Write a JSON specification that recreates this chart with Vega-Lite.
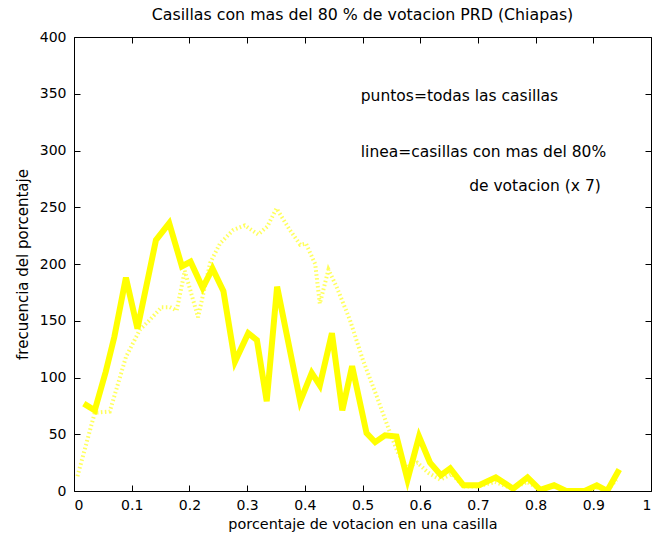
{
  "$schema": "https://vega.github.io/schema/vega-lite/v6.json",
  "autosize": "none",
  "width": 577,
  "height": 454,
  "padding": {"left": 74, "top": 37, "right": 2, "bottom": 51},
  "background": "white",
  "title": {"text": "Casillas con mas del 80 % de votacion PRD (Chiapas)", "font": "DejaVu Sans", "fontSize": 15.8, "fontWeight": "normal", "color": "black", "offset": 6, "anchor": "middle"},
  "config": {
    "view": {"stroke": "black", "strokeWidth": 1},
    "axis": {"labelFont": "DejaVu Sans", "labelFontSize": 14, "labelColor": "black", "titleFont": "DejaVu Sans", "titleFontSize": 15, "titleFontWeight": "normal", "titleColor": "black", "domain": false, "grid": false, "tickColor": "black", "tickSize": -6, "tickWidth": 1}
  },
  "datasets": {
    "solid": [
      {"x": 0.017, "y": 77}, {"x": 0.036, "y": 71}, {"x": 0.055, "y": 105}, {"x": 0.07, "y": 136}, {"x": 0.09, "y": 188},
      {"x": 0.11, "y": 143}, {"x": 0.142, "y": 221}, {"x": 0.165, "y": 236}, {"x": 0.187, "y": 198}, {"x": 0.202, "y": 202},
      {"x": 0.223, "y": 179}, {"x": 0.24, "y": 196}, {"x": 0.259, "y": 176}, {"x": 0.279, "y": 114}, {"x": 0.302, "y": 139},
      {"x": 0.317, "y": 133}, {"x": 0.334, "y": 79}, {"x": 0.352, "y": 180}, {"x": 0.392, "y": 79}, {"x": 0.412, "y": 104},
      {"x": 0.426, "y": 93}, {"x": 0.447, "y": 139}, {"x": 0.465, "y": 71}, {"x": 0.482, "y": 110}, {"x": 0.507, "y": 51},
      {"x": 0.522, "y": 43}, {"x": 0.539, "y": 49}, {"x": 0.559, "y": 48}, {"x": 0.578, "y": 10}, {"x": 0.598, "y": 48},
      {"x": 0.617, "y": 25}, {"x": 0.636, "y": 14}, {"x": 0.652, "y": 20}, {"x": 0.675, "y": 5}, {"x": 0.702, "y": 5},
      {"x": 0.731, "y": 12}, {"x": 0.761, "y": 2}, {"x": 0.786, "y": 12}, {"x": 0.808, "y": 1}, {"x": 0.832, "y": 5},
      {"x": 0.853, "y": 0}, {"x": 0.885, "y": 0}, {"x": 0.906, "y": 5}, {"x": 0.924, "y": 0}, {"x": 0.945, "y": 19}
    ],
    "dotted": [
      {"x": 0.006, "y": 13}, {"x": 0.036, "y": 69}, {"x": 0.062, "y": 70}, {"x": 0.09, "y": 118}, {"x": 0.114, "y": 142},
      {"x": 0.13, "y": 150}, {"x": 0.152, "y": 162}, {"x": 0.166, "y": 162}, {"x": 0.178, "y": 159}, {"x": 0.192, "y": 194},
      {"x": 0.215, "y": 153}, {"x": 0.236, "y": 201}, {"x": 0.253, "y": 218}, {"x": 0.276, "y": 230}, {"x": 0.296, "y": 234},
      {"x": 0.319, "y": 226}, {"x": 0.335, "y": 233}, {"x": 0.351, "y": 249}, {"x": 0.374, "y": 230}, {"x": 0.392, "y": 217},
      {"x": 0.402, "y": 218}, {"x": 0.418, "y": 200}, {"x": 0.426, "y": 165}, {"x": 0.441, "y": 195}, {"x": 0.455, "y": 180},
      {"x": 0.478, "y": 151}, {"x": 0.501, "y": 115}, {"x": 0.525, "y": 83}, {"x": 0.548, "y": 51}, {"x": 0.562, "y": 33},
      {"x": 0.577, "y": 21}, {"x": 0.595, "y": 25}, {"x": 0.614, "y": 16}, {"x": 0.635, "y": 10}, {"x": 0.655, "y": 15},
      {"x": 0.675, "y": 4}, {"x": 0.7, "y": 4}, {"x": 0.73, "y": 8}, {"x": 0.76, "y": 2}, {"x": 0.785, "y": 8},
      {"x": 0.81, "y": 1}, {"x": 0.83, "y": 4}, {"x": 0.855, "y": 0}, {"x": 0.885, "y": 0}, {"x": 0.905, "y": 3},
      {"x": 0.925, "y": 1}, {"x": 0.94, "y": 10}
    ],
    "notesLeft": [
      {"x": 0.497, "y": 348, "t": "puntos=todas las casillas"},
      {"x": 0.497, "y": 299, "t": "linea=casillas con mas del 80%"}
    ],
    "notesRight": [
      {"x": 0.913, "y": 269, "t": "de votacion (x 7)"}
    ]
  },
  "layer": [
    {
      "data": {"name": "dotted"},
      "mark": {"type": "line", "color": "#ffff33", "strokeWidth": 4, "strokeDash": [1.5, 2.5], "opacity": 0.8, "clip": true},
      "encoding": {
        "x": {"field": "x", "type": "quantitative", "scale": {"domain": [0, 1], "nice": false}, "axis": {"orient": "top", "labels": false, "title": null, "values": [0,0.1,0.2,0.3,0.4,0.5,0.6,0.7,0.8,0.9,1]}},
        "y": {"field": "y", "type": "quantitative", "scale": {"domain": [0, 400], "nice": false}, "axis": {"orient": "right", "labels": false, "title": null, "values": [0,50,100,150,200,250,300,350,400]}}
      }
    },
    {
      "data": {"name": "solid"},
      "mark": {"type": "line", "color": "#ffff00", "strokeWidth": 6, "strokeJoin": "miter", "clip": true},
      "encoding": {
        "x": {"field": "x", "type": "quantitative", "axis": {"orient": "bottom", "title": "porcentaje de votacion en una casilla", "titleFontSize": 14.4, "titlePadding": 5, "labelPadding": 13, "format": "~g", "values": [0,0.1,0.2,0.3,0.4,0.5,0.6,0.7,0.8,0.9,1]}},
        "y": {"field": "y", "type": "quantitative", "axis": {"orient": "left", "title": "frecuencia del porcentaje", "titlePadding": 9, "labelPadding": 14, "values": [0,50,100,150,200,250,300,350,400]}}
      }
    },
    {
      "data": {"name": "notesLeft"},
      "mark": {"type": "text", "font": "DejaVu Sans", "fontSize": 15.5, "color": "black", "baseline": "middle", "align": "left"},
      "encoding": {
        "x": {"field": "x", "type": "quantitative", "axis": null},
        "y": {"field": "y", "type": "quantitative", "axis": null},
        "text": {"field": "t"}
      }
    },
    {
      "data": {"name": "notesRight"},
      "mark": {"type": "text", "font": "DejaVu Sans", "fontSize": 15.5, "color": "black", "baseline": "middle", "align": "right"},
      "encoding": {
        "x": {"field": "x", "type": "quantitative", "axis": null},
        "y": {"field": "y", "type": "quantitative", "axis": null},
        "text": {"field": "t"}
      }
    }
  ],
  "resolve": {"axis": {"x": "independent", "y": "independent"}}
}
